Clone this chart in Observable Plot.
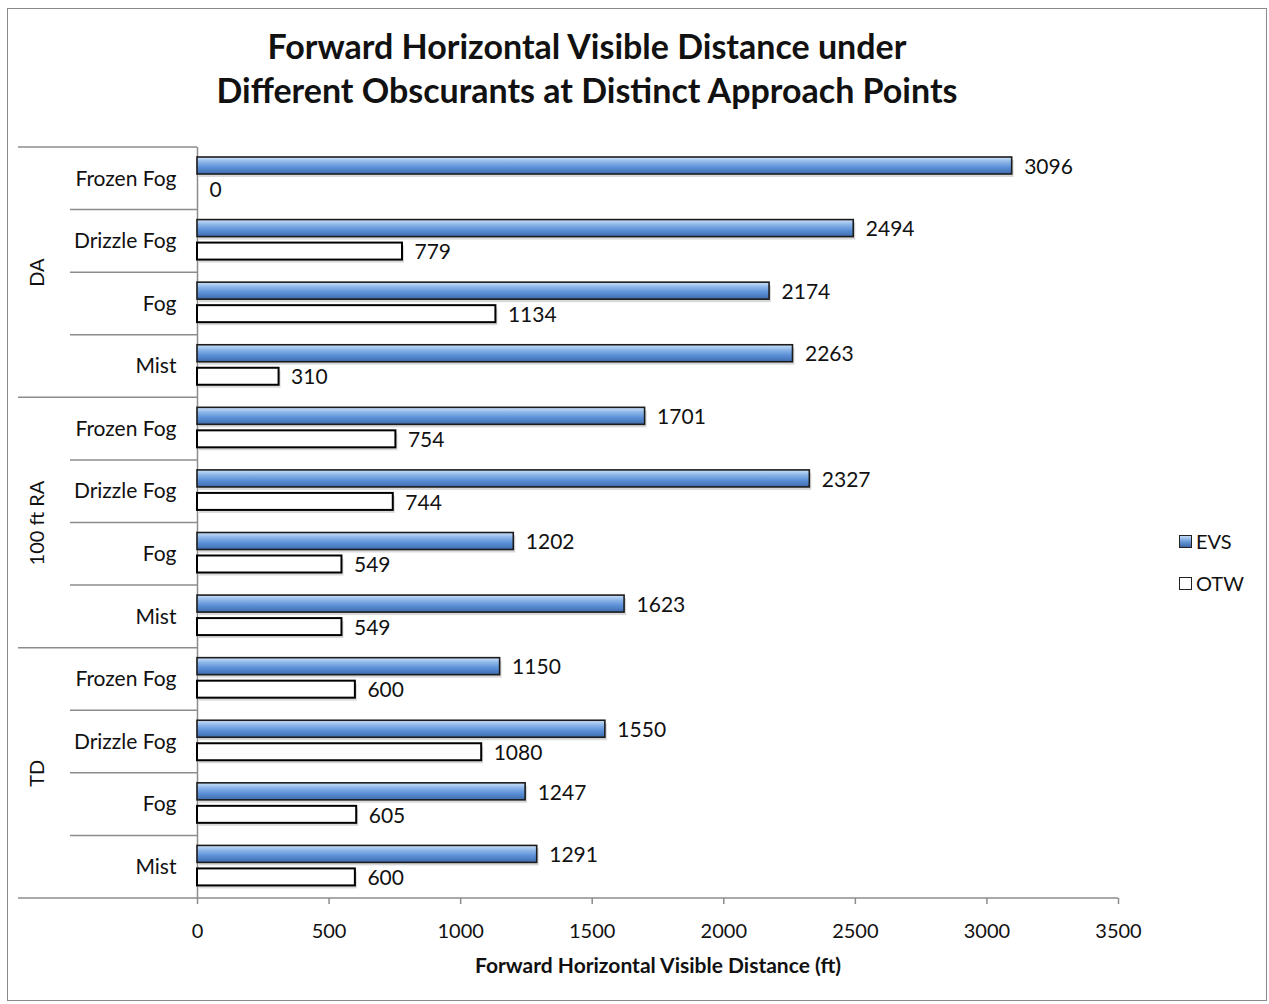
<!DOCTYPE html>
<html>
<head>
<meta charset="utf-8">
<script src="https://cdn.jsdelivr.net/npm/d3@7"></script>
<script src="https://cdn.jsdelivr.net/npm/@observablehq/plot@0.6"></script>
<style>
  html, body { margin: 0; padding: 0; background: #fff; }
  #wrap { position: relative; width: 1269px; height: 1004px; overflow: hidden; font-family: Lato, "Open Sans", sans-serif; }
  #border { position: absolute; left: 7px; top: 8px; width: 1260px; height: 993px; border: 1.5px solid #8a8a8a; box-sizing: border-box; pointer-events: none; }
  #title { position: absolute; left: 0; top: 24px; width: 1174px; text-align: center; font-weight: bold; font-size: 34px; line-height: 44px; color: #111; }
  #chart { position: absolute; left: 0; top: 0; }
  .leg { position: absolute; left: 1179px; font-size: 20px; color: #111; display: flex; align-items: center; }
  .sw { width: 13px; height: 13px; margin-right: 4px; box-sizing: border-box; }
</style>
</head>
<body>
<div id="wrap">
  <div id="chart"></div>
  <div id="title">Forward Horizontal Visible Distance under<br>Different Obscurants at Distinct Approach Points</div>
  <div class="leg" style="top:529px"><div class="sw" style="border:1.5px solid #222;background:linear-gradient(#c5dcf7,#6a9ad8 50%,#3a68a8)"></div>EVS</div>
  <div class="leg" style="top:571px"><div class="sw" style="border:1.5px solid #222;background:#fff"></div>OTW</div>
  <div id="border"></div>
</div>
<script>
const groups = ["DA", "100 ft RA", "TD"];
const categories = ["Frozen Fog", "Drizzle Fog", "Fog", "Mist"];
const seriesNames = ["EVS", "OTW"];
const evsValues = [3096, 2494, 2174, 2263, 1701, 2327, 1202, 1623, 1150, 1550, 1247, 1291];
const otwValues = [0, 779, 1134, 310, 754, 744, 549, 549, 600, 1080, 605, 600];
const xTicks = [0, 500, 1000, 1500, 2000, 2500, 3000, 3500];
const xLabel = "Forward Horizontal Visible Distance (ft)";

const keys = [];
groups.forEach(g => categories.forEach(c => keys.push(g + "|" + c)));
const evsRows = keys.map((k, i) => ({key: k, series: seriesNames[0], value: evsValues[i]}));
const otwRows = keys.map((k, i) => ({key: k, series: seriesNames[1], value: otwValues[i]}));
const groupRows = groups.map((g, i) => ({group: g, key: keys[i * 4 + 1]}));

const mT = 147, mB = 106, H = 1004;
const bw = (H - mT - mB) / keys.length;
const evsTop = 10, evsH = 17, otwTop = 33, otwH = 17;

const chart = Plot.plot({
  width: 1269,
  height: H,
  marginLeft: 197,
  marginRight: 151,
  marginTop: mT,
  marginBottom: mB,
  style: {fontFamily: "Lato, 'Open Sans', sans-serif", fontSize: "21px", color: "#111", background: "transparent"},
  x: {domain: [0, 3500], axis: null},
  y: {type: "band", domain: keys, paddingInner: 0, paddingOuter: 0, round: false, axis: null},
  marks: [
    Plot.ruleX([0], {stroke: "#8c8c8c", strokeWidth: 1.5}),
    Plot.axisX({ticks: xTicks, tickSize: 6, tickPadding: 19, tickFormat: d => String(d), stroke: "#8c8c8c", strokeWidth: 1.5, label: null, fill: "#111", fontSize: 20}),
    Plot.axisY({ticks: keys, tickSize: 0, tickPadding: 21, tickFormat: d => d.split("|")[1], label: null, fill: "#111"}),
    // shadows
    Plot.barX(evsRows, {x: "value", y: "key", insetTop: evsTop, insetBottom: bw - evsTop - evsH, dx: 2, dy: 3, fill: "#000", fillOpacity: 0.15}),
    Plot.barX(otwRows, {x: "value", y: "key", insetTop: otwTop, insetBottom: bw - otwTop - otwH, dx: 2, dy: 3, fill: "#000", fillOpacity: 0.15}),
    Plot.barX(evsRows, {x: "value", y: "key", insetTop: evsTop, insetBottom: bw - evsTop - evsH, fill: "url(#evsGrad)", stroke: "#1c1c1c", strokeWidth: 1.6}),
    Plot.barX(otwRows, {x: "value", y: "key", insetTop: otwTop, insetBottom: bw - otwTop - otwH, fill: "#fff", stroke: "#000", strokeWidth: 2}),
    Plot.text(evsRows, {x: "value", y: "key", text: d => String(d.value), dx: 12, dy: evsTop + evsH / 2 - bw / 2 + 1, textAnchor: "start", fill: "#111"}),
    Plot.text(otwRows, {x: "value", y: "key", text: d => String(d.value), dx: 12, dy: otwTop + otwH / 2 - bw / 2 + 1, textAnchor: "start", fill: "#111"}),
    Plot.text(groupRows, {y: "key", text: "group", frameAnchor: "left", dx: -160, dy: bw / 2, rotate: -90, textAnchor: "middle", fill: "#111", fontSize: 20}),
    Plot.text([xLabel], {text: d => d, frameAnchor: "bottom", dy: 74, fontWeight: "bold", fontSize: 21, fill: "#111"})
  ]
});

const svg = d3.select(chart);
const defs = svg.insert("defs", ":first-child");
const grad = defs.append("linearGradient").attr("id", "evsGrad").attr("x1", 0).attr("y1", 0).attr("x2", 0).attr("y2", 1);
[[0, "#cfe2fa"], [0.3, "#8ab4e8"], [0.6, "#5d91d8"], [1, "#3d6cae"]].forEach(([o, c]) => grad.append("stop").attr("offset", o).attr("stop-color", c));

const ys = chart.scale("y");
const xs = chart.scale("x");
const x0 = xs.apply(0);
const gLines = svg.append("g").attr("stroke", "#8c8c8c").attr("stroke-width", 1.5);
keys.forEach((k, i) => {
  const yy = ys.apply(k);
  gLines.append("line").attr("x1", i % 4 === 0 ? 18 : 70).attr("x2", x0).attr("y1", yy).attr("y2", yy);
});
const yBottom = ys.apply(keys[keys.length - 1]) + ys.bandwidth;
gLines.append("line").attr("x1", 18).attr("x2", xs.apply(3500)).attr("y1", yBottom).attr("y2", yBottom);

document.getElementById("chart").appendChild(chart);
</script>
</body>
</html>
